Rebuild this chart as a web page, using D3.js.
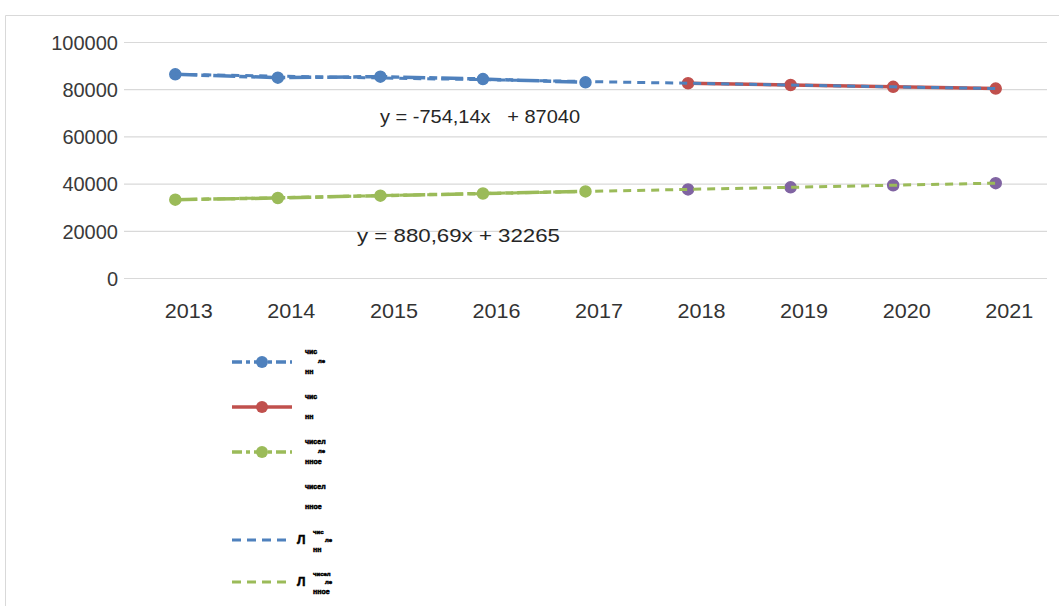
<!doctype html>
<html>
<head>
    <meta charset="UTF-8">
    <title>trend</title>
    <script src="https://d3js.org/d3.v7.min.js"></script>
    <style>
        body { margin: 0; background: #fff; }
        text { font-family: "Liberation Sans", Arial, sans-serif; }
    </style>
</head>
<body>
<svg id="chart" width="1059" height="606"></svg>
<script>
    // --- data ---
    var years = ["2013", "2014", "2015", "2016", "2017", "2018", "2019", "2020", "2021"];
    var factYears = ["2013", "2014", "2015", "2016", "2017"];
    var prognYears = ["2018", "2019", "2020", "2021"];
    var blueFact = [86300, 84900, 85300, 84300, 82900];
    var redPrognoz = [82515, 81761, 81007, 80253];
    var greenFact = [33200, 33900, 34900, 35800, 36700];
    var purplePrognoz = [37549, 38430, 39310, 40191];
    var blueTrend = [86286, 85532, 84778, 84023, 83269, 82515, 81761, 81007, 80253];
    var greenTrend = [33146, 34026, 34907, 35788, 36668, 37549, 38430, 39310, 40191];
    var yTicks = [0, 20000, 40000, 60000, 80000, 100000];
    var equations = ["y = -754,14x   + 87040", "y = 880,69x + 32265"];
    var legendLabels = [
        ["чис", "ле", "нн"],
        ["чис", "", "нн"],
        ["чисел", "ле", "нное"],
        ["чисел", "", "нное"],
        ["Л", "чис", "ле", "нн"],
        ["Л", "чисел", "ле", "нное"]
    ];

    var blue = "#4F81BD", red = "#C0504D", green = "#9BBB59", purple = "#8064A2";

    var svg = d3.select("#chart");

    // chart frame
    svg.append("path")
        .attr("d", "M5.5,606 V15.5 H1059")
        .attr("fill", "none")
        .attr("stroke", "#d9d9d9")
        .attr("stroke-width", 1);

    var x = d3.scalePoint().domain(years).range([124, 1047]).padding(0.5);
    var y = d3.scaleLinear().domain([0, 100000]).range([278, 42]);

    // gridlines + y labels
    var yAxis = d3.axisLeft(y).tickValues(yTicks).tickFormat(d3.format("d"))
        .tickSize(-(1047 - 124)).tickPadding(6);
    var gy = svg.append("g").attr("transform", "translate(124,0)").call(yAxis);
    gy.select(".domain").remove();
    gy.selectAll(".tick line").attr("stroke", "#d9d9d9").attr("stroke-width", 1.2);
    gy.selectAll(".tick text")
        .attr("font-size", 20)
        .attr("fill", "#3a3a3a")
        .attr("x", -6)
        .attr("dy", "0.36em");

    // x labels
    var xAxis = d3.axisBottom(x).tickSize(0).tickPadding(25);
    var gx = svg.append("g").attr("transform", "translate(0,278)").call(xAxis);
    gx.select(".domain").remove();
    gx.selectAll(".tick text")
        .attr("font-size", 21)
        .attr("fill", "#333")
        .attr("dx", 13)
        .attr("textLength", 48)
        .attr("lengthAdjust", "spacingAndGlyphs");

    var line = d3.line().x(function (d) { return x(d[0]); }).y(function (d) { return y(d[1]); });
    function pairs(ks, vs) { return ks.map(function (k, i) { return [k, vs[i]]; }); }

    // series lines
    svg.append("path").datum(pairs(factYears, blueFact)).attr("d", line)
        .attr("fill", "none").attr("stroke", blue).attr("stroke-width", 3.5)
        .attr("stroke-dasharray", "22,4,8,4");
    svg.append("path").datum(pairs(prognYears, redPrognoz)).attr("d", line)
        .attr("fill", "none").attr("stroke", red).attr("stroke-width", 3.5);
    svg.append("path").datum(pairs(factYears, greenFact)).attr("d", line)
        .attr("fill", "none").attr("stroke", green).attr("stroke-width", 3.5)
        .attr("stroke-dasharray", "22,4,8,4");

    // markers
    function markers(ks, vs, col) {
        svg.append("g").selectAll("circle").data(pairs(ks, vs)).enter().append("circle")
            .attr("cx", function (d) { return x(d[0]); })
            .attr("cy", function (d) { return y(d[1]); })
            .attr("r", 5.5)
            .attr("fill", col)
            .attr("stroke", col)
            .attr("stroke-width", 1.5);
    }
    markers(factYears, blueFact, blue);
    markers(prognYears, redPrognoz, red);
    markers(factYears, greenFact, green);
    markers(prognYears, purplePrognoz, purple);

    // trend lines on top
    svg.append("path").datum(pairs(years, blueTrend)).attr("d", line)
        .attr("fill", "none").attr("stroke", blue).attr("stroke-width", 3)
        .attr("stroke-dasharray", "8,6");
    svg.append("path").datum(pairs(years, greenTrend)).attr("d", line)
        .attr("fill", "none").attr("stroke", green).attr("stroke-width", 3)
        .attr("stroke-dasharray", "8,6");

    // trend equations
    svg.append("text").attr("x", 380).attr("y", 123).attr("font-size", 19)
        .attr("fill", "#262626").style("white-space", "pre")
        .attr("textLength", 200).attr("lengthAdjust", "spacingAndGlyphs")
        .text(equations[0]);
    svg.append("text").attr("x", 357).attr("y", 242).attr("font-size", 19)
        .attr("fill", "#262626").style("white-space", "pre")
        .attr("textLength", 203).attr("lengthAdjust", "spacingAndGlyphs")
        .text(equations[1]);

    // legend
    var legY = [362, 407, 452, 497, 540, 582];
    var legStyle = [
        { c: blue, dash: "10,4,4,4", w: 3.5, m: true },
        { c: red, dash: null, w: 3.5, m: true },
        { c: green, dash: "10,4,4,4", w: 3.5, m: true },
        { c: purple, dash: null, w: 0, m: false },
        { c: blue, dash: "9,6", w: 3, m: false },
        { c: green, dash: "9,6", w: 3, m: false }
    ];
    var leg = svg.append("g").selectAll("g").data(legStyle).enter().append("g")
        .attr("transform", function (d, i) { return "translate(0," + legY[i] + ")"; });
    leg.filter(function (d) { return d.w > 0; }).append("line")
        .attr("x1", 232).attr("x2", 292).attr("y1", 0).attr("y2", 0)
        .attr("stroke", function (d) { return d.c; })
        .attr("stroke-width", function (d) { return d.w; })
        .attr("stroke-dasharray", function (d) { return d.dash; });
    leg.filter(function (d) { return d.m; }).append("circle")
        .attr("cx", 262).attr("cy", 0).attr("r", 6)
        .attr("fill", function (d) { return d.c; });
    leg.each(function (d, i) {
        var g = d3.select(this);
        var lab = legendLabels[i];
        function t(xx, yy, s, str) {
            g.append("text").attr("x", xx).attr("y", yy).attr("font-size", s)
                .attr("font-weight", "bold").attr("fill", "#000")
                .attr("stroke", "#000").attr("stroke-width", 0.5).text(str);
        }
        if (i < 4) {
            t(305, -8, 7, lab[0]);
            if (lab[1]) t(318, 1, 6, lab[1]);
            t(305, 12, 7, lab[2]);
        } else {
            t(297, 4, 12, lab[0]);
            t(313, -6, 6, lab[1]);
            t(325, 2, 6, lab[2]);
            t(313, 12, 7, lab[3]);
        }
    });
</script>
</body>
</html>
